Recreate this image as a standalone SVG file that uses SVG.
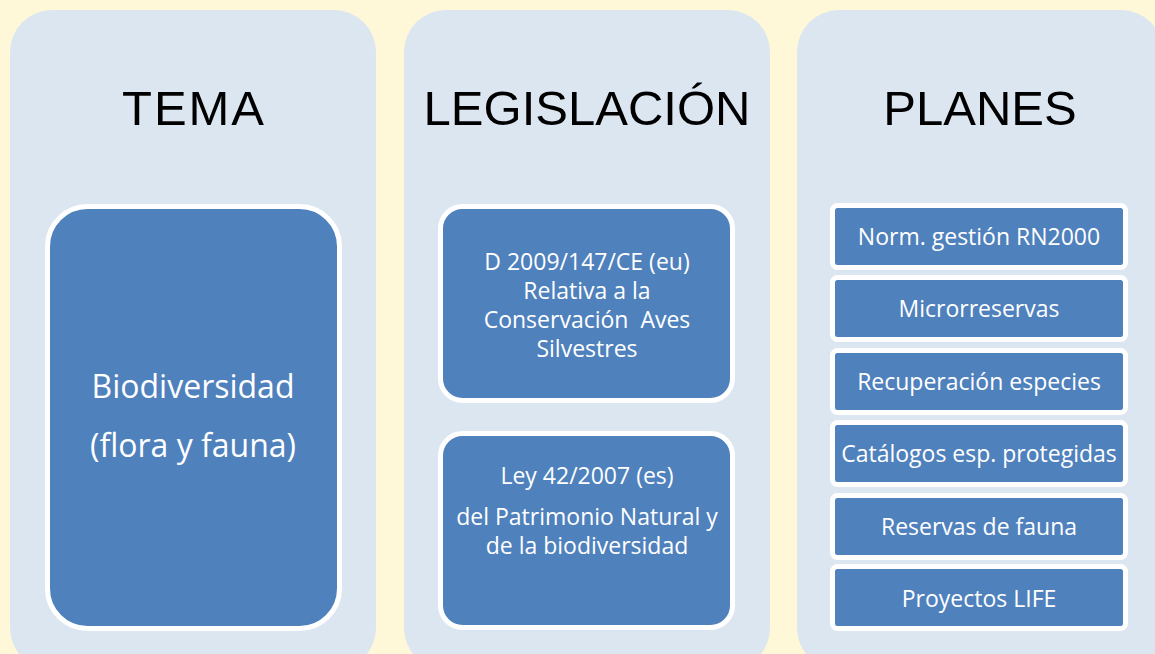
<svg xmlns="http://www.w3.org/2000/svg" width="1155" height="654" viewBox="0 0 1155 654">
<style>
.col{fill:#DCE6F1}
.box{fill:#4F81BD;stroke:#FFFFFF;stroke-width:5}
.title{font-family:"Liberation Sans",Arial,sans-serif;font-size:49px;fill:#000;text-anchor:middle}
.t{font-family:"Open Sans","Liberation Sans",sans-serif;font-size:23px;fill:#FFF;text-anchor:middle}
.tb{font-family:"Open Sans","Liberation Sans",sans-serif;font-size:32px;fill:#FFF;text-anchor:middle}
</style>
<rect width="1155" height="654" fill="#FFF8D8"/>
<g id="col-tema">
<rect class="col" x="10" y="10" width="366" height="660" rx="42"/>
<text class="title" x="193" y="125" textLength="142">TEMA</text>
</g>
<g id="col-legislacion">
<rect class="col" x="404" y="10" width="366" height="660" rx="42"/>
<text class="title" x="587" y="125">LEGISLACIÓN</text>
</g>
<g id="col-planes">
<rect class="col" x="797" y="10" width="366" height="660" rx="42"/>
<text class="title" x="980" y="125">PLANES</text>
</g>
<g id="biodiversidad">
<rect class="box" x="47.5" y="206.5" width="292" height="422" rx="40"/>
<text class="tb" x="193" y="398">Biodiversidad</text>
<text class="tb" x="193" y="457">(flora y fauna)</text>
</g>
<g id="directiva">
<rect class="box" x="440.5" y="206.5" width="292" height="194" rx="22"/>
<text class="t" x="587" y="270">D 2009/147/CE (eu)</text>
<text class="t" x="587" y="299">Relativa a la</text>
<text class="t" x="587" y="328">Conservación&#160; Aves</text>
<text class="t" x="587" y="357">Silvestres</text>
</g>
<g id="ley">
<rect class="box" x="440.5" y="433.5" width="292" height="194" rx="22"/>
<text class="t" x="587" y="484">Ley 42/2007 (es)</text>
<text class="t" x="587" y="525">del Patrimonio Natural y</text>
<text class="t" x="587" y="554">de la biodiversidad</text>
</g>
<g id="p1"><rect class="box" x="832.5" y="205.5" width="293" height="62" rx="5"/><text class="t" x="979" y="245">Norm. gestión RN2000</text></g>
<g id="p2"><rect class="box" x="832.5" y="277.5" width="293" height="62" rx="5"/><text class="t" x="979" y="317">Microrreservas</text></g>
<g id="p3"><rect class="box" x="832.5" y="350.5" width="293" height="62" rx="5"/><text class="t" x="979" y="390">Recuperación especies</text></g>
<g id="p4"><rect class="box" x="832.5" y="422.5" width="293" height="62" rx="5"/><text class="t" x="979" y="462">Catálogos esp. protegidas</text></g>
<g id="p5"><rect class="box" x="832.5" y="495.5" width="293" height="62" rx="5"/><text class="t" x="979" y="535">Reservas de fauna</text></g>
<g id="p6"><rect class="box" x="832.5" y="566.5" width="293" height="62" rx="5"/><text class="t" x="979" y="607">Proyectos LIFE</text></g>
<g id="connectors"></g>
</svg>
